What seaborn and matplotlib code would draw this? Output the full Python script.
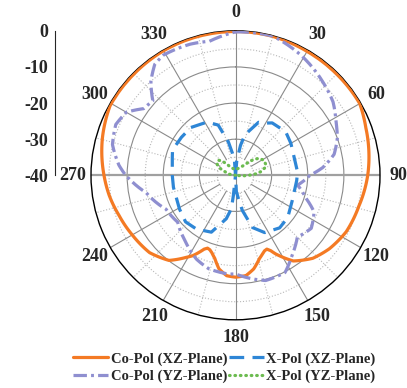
import matplotlib
matplotlib.use("Agg")
import matplotlib.pyplot as plt
import numpy as np
import seaborn as sns

sns.set_style("white")
plt.rcParams["font.family"] = ["Liberation Serif", "DejaVu Serif"]
plt.rcParams["font.weight"] = "bold"

# angle (deg, clockwise from top) and level (dB), in drawing order
co_xz_deg = [0, 15, 30, 45, 60, 70, 81, 90, 104, 117, 128, 137, 146, 150, 153, 155, 157, 159, 161, 164,
             169, 174, 180, 185, 190, 194, 197, 199, 201, 203, 205, 208, 211, 218, 228, 240, 251, 261,
             270, 286, 299, 315, 330, 345, 360]
co_xz_db = [-0.2, -0.2, -0.4, -0.4, -0.3, -1.6, -2.6, -3.4, -4.8, -5.6, -7.0, -8.6, -11.4, -13.8, -15.6,
            -17.0, -17.8, -17.6, -17.0, -16.0, -13.6, -12.1, -11.8, -12.1, -13.7, -16.3, -17.6, -18.2,
            -18.4, -17.8, -16.6, -14.8, -13.5, -10.1, -8.0, -7.0, -5.9, -4.6, -3.6, -1.7, -0.3, -0.3,
            -0.2, -0.2, -0.2]

co_yz_deg = [0, 15, 29, 43, 53, 62, 70, 78, 85, 90, 99, 108, 115, 125, 135, 145, 153, 164, 180, 184,
             196, 205, 217, 231, 244, 259, 268, 270, 275, 284, 293, 300, 306, 312, 318, 324, 329, 341, 349, 360]
co_yz_db = [-0.3, -0.1, -2.2, -4.6, -6.2, -8.5, -10.0, -12.1, -15.8, -19.4, -22.6, -19.5, -16.0, -14.4,
            -15.8, -12.8, -9.8, -9.7, -12.7, -12.6, -13.1, -14.4, -17.0, -19.4, -18.6, -14.8, -10.6, -9.6,
            -7.6, -4.9, -4.0, -5.1, -8.6, -9.2, -5.0, -2.0, -1.2, -1.6, -2.2, -0.3]

x_xz_deg = [0, 5, 9.5, 13, 23.5, 27, 35, 49, 60, 72, 87, 95, 114, 129, 140, 153, 162, 169, 173, 177, 0,
            356, 352, 348, 341, 332, 317, 305, 292, 286, 270, 259, 239, 227, 216, 203, 192, 187, 186, 0]
x_xz_db = [-40, -36.0, -31.6, -28.5, -24.0, -23.8, -22.3, -21.6, -22.3, -23.0, -22.8, -23.0, -22.8, -21.4,
           -21.0, -22.2, -24.8, -30.1, -33.6, -35.5, -40, -35.8, -33.8, -30.6, -25.3, -23.3, -21.9, -21.7,
           -21.2, -21.8, -22.5, -22.5, -21.9, -21.1, -21.6, -22.9, -27.7, -30.7, -34.4, -40]

x_yz_deg = [270, 280, 288, 294, 300, 306, 312, 317, 322, 330, 340, 350, 0, 10, 20, 30, 40, 45, 49, 54,
            62, 70, 75, 82, 86, 90, 95, 100]
x_yz_db = [-40, -38.0, -37.1, -35.4, -34.2, -33.7, -33.8, -34.6, -36.0, -37.5, -38.0, -38.3, -38.5, -38.3,
           -38.0, -37.5, -36.4, -34.8, -33.3, -32.0, -31.1, -31.1, -31.4, -33.0, -34.4, -36.3, -38.0, -40]

angle_ticks = list(range(0, 360, 30))
angle_labels = [str(a) for a in angle_ticks]
level_ticks = [0, -10, -20, -30, -40]

fig = plt.figure(figsize=(4.07, 3.88), dpi=100)
ax = fig.add_axes([91 / 407, 68.2 / 388, 289 / 407, 289 / 388], projection="polar")
ax.set_theta_zero_location("N")
ax.set_theta_direction(-1)

# (deg, dB, colour, linestyle, label, capstyle, follow arcs between samples)
series = [
    (co_xz_deg, co_xz_db, "#F47A24", "-", "Co-Pol (XZ-Plane)", "butt", True),
    (co_yz_deg, co_yz_db, "#8F8FD0", (0, (4.2, 1.3, 0.9, 1.3)), "Co-Pol (YZ-Plane)", "butt", True),
    (x_xz_deg, x_xz_db, "#2E86D6", (0, (4.6, 2.6)), "X-Pol (XZ-Plane)", "butt", False),
    (x_yz_deg, x_yz_db, "#6CBB50", (0, (0.2, 1.5)), "X-Pol (YZ-Plane)", "round", False),
]
for deg, db, color, ls, label, cap, arcs in series:
    n_before = len(ax.lines)
    sns.lineplot(x=np.deg2rad(deg), y=db, ax=ax, sort=False, estimator=None, errorbar=None,
                 color=color, lw=2.3, linestyle=ls, label=label, dash_capstyle=cap, zorder=3)
    if arcs:
        for line in ax.lines[n_before:]:
            line.get_path()._interpolation_steps = 24

ax.set_ylim(-40, 0)
ax.set_yticks([-30, -20, -10])
ax.set_yticks([-35, -25, -15, -5], minor=True)
ax.set_yticklabels([])
ax.yaxis.grid(True, which="major", color="#8a8a8a", lw=0.8, ls="-")
ax.yaxis.grid(True, which="minor", color="#b8b8b8", lw=0.8, ls=":")
ax.tick_params(axis="y", which="both", length=0)

ax.set_xticks(np.deg2rad(angle_ticks))
ax.set_xticklabels(angle_labels, fontsize=13, fontweight="bold")
ax.set_xticks(np.deg2rad(np.arange(15, 360, 30)), minor=True)
ax.xaxis.grid(False, which="both")
ax.tick_params(axis="x", which="both", pad=3, length=3, direction="out")
ax.set_xlabel("")
ax.set_ylabel("")

# radial grid lines: axes lines through the centre, others from the -35 ring
for a in angle_ticks:
    t = np.deg2rad(a)
    if a in (90, 270):
        ax.plot([t, t], [-40, 0], color="#a0a0a0", lw=1.6, zorder=1)
    elif a in (0, 180):
        ax.plot([t, t], [-40, 0], color="#8a8a8a", lw=0.8, zorder=1)
    else:
        ax.plot([t, t], [-35, 0], color="#8a8a8a", lw=0.8, zorder=1)
for a in range(15, 360, 30):
    t = np.deg2rad(a)
    ax.plot([t, t], [-35, 0], color="#b8b8b8", lw=0.8, ls=":", zorder=1)

ax.spines["polar"].set_color("black")
ax.spines["polar"].set_linewidth(1.0)

# separate level scale on the left
lax = fig.add_axes([55 / 407, (388 - 175.3) / 388, 0.0001, 144.5 / 388])
lax.set_ylim(-40, 0)
lax.set_yticks(level_ticks)
lax.set_yticklabels([str(v) for v in level_ticks], fontsize=13, fontweight="bold")
lax.set_yticks([-35, -25, -15, -5], minor=True)
lax.tick_params(axis="y", which="major", direction="out", length=3.5, width=0.8, pad=1.5)
lax.tick_params(axis="y", which="minor", direction="in", length=2.2, width=0.8)
lax.set_xticks([])
for side in ["top", "right", "bottom"]:
    lax.spines[side].set_visible(False)
lax.spines["left"].set_linewidth(0.8)
lax.patch.set_visible(False)

handles, labels = ax.get_legend_handles_labels()
order = [labels.index(n) for n in ["Co-Pol (XZ-Plane)", "Co-Pol (YZ-Plane)", "X-Pol (XZ-Plane)", "X-Pol (YZ-Plane)"]]
if ax.get_legend() is not None:
    ax.get_legend().remove()
fig.legend([handles[i] for i in order], [labels[i] for i in order], loc="center",
           bbox_to_anchor=(224.5 / 407, 1 - 367.5 / 388), ncol=2, frameon=False,
           handlelength=2.4, handletextpad=0.15, columnspacing=0.15, labelspacing=0.25,
           prop={"family": "Liberation Serif", "weight": "bold", "size": 10.5})

fig.savefig("out.png", dpi=100)
